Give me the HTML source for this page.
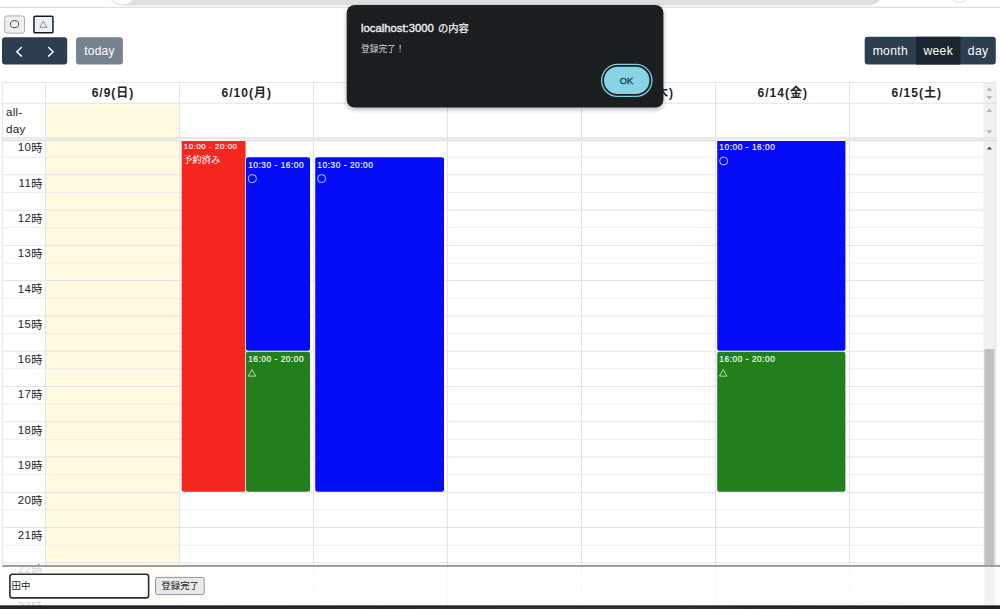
<!DOCTYPE html>
<html><head><meta charset="utf-8"><title>calendar</title>
<style>
html,body{margin:0;padding:0;}
body{width:1000px;height:609px;overflow:hidden;background:#fff;}
svg{display:block;}
text{font-family:"Liberation Sans","Noto Sans CJK JP",sans-serif;white-space:pre;}
</style></head><body>
<svg width="1000" height="609" viewBox="0 0 1000 609">
<defs><linearGradient id="tb" x1="0" y1="0" x2="1" y2="0"><stop offset="0" stop-color="#1c2a33"/><stop offset="0.22" stop-color="#1e2b32"/><stop offset="0.35" stop-color="#242a2a"/><stop offset="0.5" stop-color="#2b3325"/><stop offset="0.68" stop-color="#2d3326"/><stop offset="0.85" stop-color="#1f2b22"/><stop offset="1" stop-color="#1b2922"/></linearGradient><filter id="sh" x="-10%" y="-10%" width="120%" height="130%"><feGaussianBlur stdDeviation="2.8"/><feOffset dy="2"/></filter></defs>
<rect x="108.00" y="-30.00" width="775.00" height="35.40" fill="#dfdfdf" rx="14.00"/>
<circle cx="122.5" cy="-9.7" r="14.1" fill="#fff"/>
<circle cx="959.5" cy="-6" r="8.4" fill="none" stroke="#e0e0e0" stroke-width="1"/>
<rect x="0.00" y="6.80" width="1000.00" height="1.00" fill="#d9d9d9"/>
<rect x="46.00" y="103.40" width="133.60" height="34.60" fill="#fffae0"/>
<rect x="46.00" y="140.80" width="133.60" height="468.20" fill="#fffae0"/>
<rect x="983.40" y="82.40" width="12.40" height="526.60" fill="#f1f1f1"/>
<rect x="2.30" y="156.70" width="981.10" height="0.90" fill="#ececec"/>
<rect x="2.30" y="174.34" width="981.10" height="0.90" fill="#e0e0e0"/>
<rect x="2.30" y="191.98" width="981.10" height="0.90" fill="#ececec"/>
<rect x="2.30" y="209.62" width="981.10" height="0.90" fill="#e0e0e0"/>
<rect x="2.30" y="227.26" width="981.10" height="0.90" fill="#ececec"/>
<rect x="2.30" y="244.90" width="981.10" height="0.90" fill="#e0e0e0"/>
<rect x="2.30" y="262.54" width="981.10" height="0.90" fill="#ececec"/>
<rect x="2.30" y="280.18" width="981.10" height="0.90" fill="#e0e0e0"/>
<rect x="2.30" y="297.82" width="981.10" height="0.90" fill="#ececec"/>
<rect x="2.30" y="315.46" width="981.10" height="0.90" fill="#e0e0e0"/>
<rect x="2.30" y="333.10" width="981.10" height="0.90" fill="#ececec"/>
<rect x="2.30" y="350.74" width="981.10" height="0.90" fill="#e0e0e0"/>
<rect x="2.30" y="368.38" width="981.10" height="0.90" fill="#ececec"/>
<rect x="2.30" y="386.02" width="981.10" height="0.90" fill="#e0e0e0"/>
<rect x="2.30" y="403.66" width="981.10" height="0.90" fill="#ececec"/>
<rect x="2.30" y="421.30" width="981.10" height="0.90" fill="#e0e0e0"/>
<rect x="2.30" y="438.94" width="981.10" height="0.90" fill="#ececec"/>
<rect x="2.30" y="456.58" width="981.10" height="0.90" fill="#e0e0e0"/>
<rect x="2.30" y="474.22" width="981.10" height="0.90" fill="#ececec"/>
<rect x="2.30" y="491.86" width="981.10" height="0.90" fill="#e0e0e0"/>
<rect x="2.30" y="509.50" width="981.10" height="0.90" fill="#ececec"/>
<rect x="2.30" y="527.14" width="981.10" height="0.90" fill="#e0e0e0"/>
<rect x="2.30" y="544.78" width="981.10" height="0.90" fill="#ececec"/>
<rect x="2.30" y="562.42" width="981.10" height="0.90" fill="#e0e0e0"/>
<rect x="2.30" y="580.06" width="981.10" height="0.90" fill="#ececec"/>
<rect x="2.30" y="597.70" width="981.10" height="0.90" fill="#e0e0e0"/>
<rect x="1.90" y="82.25" width="994.30" height="0.90" fill="#e0e0e0"/>
<rect x="2.30" y="102.80" width="993.50" height="0.90" fill="#e0e0e0"/>
<rect x="2.30" y="137.60" width="993.50" height="3.40" fill="#efefef"/>
<rect x="2.30" y="137.50" width="993.50" height="0.80" fill="#dadada"/>
<rect x="2.30" y="140.30" width="993.50" height="0.80" fill="#dadada"/>
<rect x="1.85" y="82.00" width="0.90" height="527.00" fill="#e0e0e0"/>
<rect x="45.15" y="82.40" width="0.90" height="55.20" fill="#e0e0e0"/>
<rect x="45.15" y="141.00" width="0.90" height="468.00" fill="#e0e0e0"/>
<rect x="179.15" y="82.40" width="0.90" height="55.20" fill="#e0e0e0"/>
<rect x="179.15" y="141.00" width="0.90" height="468.00" fill="#e0e0e0"/>
<rect x="313.05" y="82.40" width="0.90" height="55.20" fill="#e0e0e0"/>
<rect x="313.05" y="141.00" width="0.90" height="468.00" fill="#e0e0e0"/>
<rect x="446.95" y="82.40" width="0.90" height="55.20" fill="#e0e0e0"/>
<rect x="446.95" y="141.00" width="0.90" height="468.00" fill="#e0e0e0"/>
<rect x="581.05" y="82.40" width="0.90" height="55.20" fill="#e0e0e0"/>
<rect x="581.05" y="141.00" width="0.90" height="468.00" fill="#e0e0e0"/>
<rect x="715.05" y="82.40" width="0.90" height="55.20" fill="#e0e0e0"/>
<rect x="715.05" y="141.00" width="0.90" height="468.00" fill="#e0e0e0"/>
<rect x="849.15" y="82.40" width="0.90" height="55.20" fill="#e0e0e0"/>
<rect x="849.15" y="141.00" width="0.90" height="468.00" fill="#e0e0e0"/>
<rect x="995.35" y="82.00" width="0.90" height="527.00" fill="#e0e0e0"/>
<polygon points="986.70,90.70 992.10,90.70 989.40,87.70" fill="#a8a8a8"/>
<polygon points="986.70,96.30 992.10,96.30 989.40,99.30" fill="#a8a8a8"/>
<polygon points="986.70,111.70 992.10,111.70 989.40,108.70" fill="#a8a8a8"/>
<polygon points="986.70,130.50 992.10,130.50 989.40,133.50" fill="#a8a8a8"/>
<polygon points="986.60,149.50 992.20,149.50 989.40,146.50" fill="#505050"/>
<rect x="984.40" y="349.00" width="9.90" height="260.00" fill="#c1c1c1"/>
<text x="113.00" y="96.60" font-size="12.00" font-weight="bold" fill="#212529" letter-spacing="1.00" text-anchor="middle">6/9(日)</text>
<text x="246.80" y="96.60" font-size="12.00" font-weight="bold" fill="#212529" letter-spacing="1.00" text-anchor="middle">6/10(月)</text>
<text x="380.70" y="96.60" font-size="12.00" font-weight="bold" fill="#212529" letter-spacing="1.00" text-anchor="middle">6/11(火)</text>
<text x="514.70" y="96.60" font-size="12.00" font-weight="bold" fill="#212529" letter-spacing="1.00" text-anchor="middle">6/12(水)</text>
<text x="648.80" y="96.60" font-size="12.00" font-weight="bold" fill="#212529" letter-spacing="1.00" text-anchor="middle">6/13(木)</text>
<text x="782.80" y="96.60" font-size="12.00" font-weight="bold" fill="#212529" letter-spacing="1.00" text-anchor="middle">6/14(金)</text>
<text x="916.80" y="96.60" font-size="12.00" font-weight="bold" fill="#212529" letter-spacing="1.00" text-anchor="middle">6/15(土)</text>
<text x="5.90" y="116.30" font-size="11.60" fill="#212529" letter-spacing="0.30">all-</text>
<text x="5.90" y="133.00" font-size="11.60" fill="#212529" letter-spacing="0.30">day</text>
<text x="31.40" y="151.41" font-size="11.40" fill="#212529" letter-spacing="0.50" text-anchor="end">10</text>
<text x="31.20" y="152.31" font-size="11.20" fill="#212529">時</text>
<text x="31.40" y="186.69" font-size="11.40" fill="#212529" letter-spacing="0.50" text-anchor="end">11</text>
<text x="31.20" y="187.59" font-size="11.20" fill="#212529">時</text>
<text x="31.40" y="221.97" font-size="11.40" fill="#212529" letter-spacing="0.50" text-anchor="end">12</text>
<text x="31.20" y="222.87" font-size="11.20" fill="#212529">時</text>
<text x="31.40" y="257.25" font-size="11.40" fill="#212529" letter-spacing="0.50" text-anchor="end">13</text>
<text x="31.20" y="258.15" font-size="11.20" fill="#212529">時</text>
<text x="31.40" y="292.53" font-size="11.40" fill="#212529" letter-spacing="0.50" text-anchor="end">14</text>
<text x="31.20" y="293.43" font-size="11.20" fill="#212529">時</text>
<text x="31.40" y="327.81" font-size="11.40" fill="#212529" letter-spacing="0.50" text-anchor="end">15</text>
<text x="31.20" y="328.71" font-size="11.20" fill="#212529">時</text>
<text x="31.40" y="363.09" font-size="11.40" fill="#212529" letter-spacing="0.50" text-anchor="end">16</text>
<text x="31.20" y="363.99" font-size="11.20" fill="#212529">時</text>
<text x="31.40" y="398.37" font-size="11.40" fill="#212529" letter-spacing="0.50" text-anchor="end">17</text>
<text x="31.20" y="399.27" font-size="11.20" fill="#212529">時</text>
<text x="31.40" y="433.65" font-size="11.40" fill="#212529" letter-spacing="0.50" text-anchor="end">18</text>
<text x="31.20" y="434.55" font-size="11.20" fill="#212529">時</text>
<text x="31.40" y="468.93" font-size="11.40" fill="#212529" letter-spacing="0.50" text-anchor="end">19</text>
<text x="31.20" y="469.83" font-size="11.20" fill="#212529">時</text>
<text x="31.40" y="504.21" font-size="11.40" fill="#212529" letter-spacing="0.50" text-anchor="end">20</text>
<text x="31.20" y="505.11" font-size="11.20" fill="#212529">時</text>
<text x="31.40" y="539.49" font-size="11.40" fill="#212529" letter-spacing="0.50" text-anchor="end">21</text>
<text x="31.20" y="540.39" font-size="11.20" fill="#212529">時</text>
<text x="31.40" y="573.17" font-size="11.40" fill="#212529" letter-spacing="0.50" text-anchor="end">22</text>
<text x="31.20" y="574.07" font-size="11.20" fill="#212529">時</text>
<text x="31.40" y="610.05" font-size="11.40" fill="#212529" letter-spacing="0.50" text-anchor="end">23</text>
<text x="31.20" y="610.95" font-size="11.20" fill="#212529">時</text>
<rect x="180.90" y="140.30" width="65.35" height="352.16" fill="#fff" rx="2.60"/>
<path d="M181.60 141.00 H245.55 V489.76 a2 2 0 0 1 -2 2 H183.60 a2 2 0 0 1 -2 -2 Z" fill="#f5261e"/>
<text x="183.75" y="149.16" font-size="7.80" fill="#fff" letter-spacing="0.60" stroke="#fff" stroke-width="0.15">10:00 - 20:00</text>
<text x="183.10" y="162.66" font-size="9.30" fill="#fff" stroke="#fff" stroke-width="0.17" style="font-family:'Liberation Serif','Noto Serif CJK SC','Noto Sans CJK JP',serif;">予約済み</text>
<rect x="245.30" y="156.60" width="65.40" height="194.94" fill="#fff" rx="2.60"/>
<rect x="246.00" y="157.30" width="64.00" height="193.54" fill="#050df7" rx="2.00"/>
<text x="248.15" y="167.50" font-size="8.30" fill="#fff" letter-spacing="0.55" stroke="#fff" stroke-width="0.15">10:30 - 16:00</text>
<circle cx="252.45" cy="178.60" r="4.0" fill="none" stroke="#e6e6ff" stroke-width="0.85"/>
<rect x="245.30" y="350.94" width="65.40" height="141.52" fill="#fff" rx="2.60"/>
<rect x="246.00" y="351.64" width="64.00" height="140.12" fill="#237f1c" rx="2.00"/>
<text x="248.15" y="361.84" font-size="8.30" fill="#fff" letter-spacing="0.55" stroke="#fff" stroke-width="0.15">16:00 - 20:00</text>
<polygon points="252.00,369.54 255.70,376.14 248.30,376.14" fill="none" stroke="#e0efe0" stroke-width="0.8"/>
<rect x="314.50" y="156.60" width="130.20" height="335.86" fill="#fff" rx="2.60"/>
<rect x="315.20" y="157.30" width="128.80" height="334.46" fill="#050df7" rx="2.00"/>
<text x="317.35" y="167.50" font-size="8.30" fill="#fff" letter-spacing="0.55" stroke="#fff" stroke-width="0.15">10:30 - 20:00</text>
<circle cx="321.65" cy="178.60" r="4.0" fill="none" stroke="#e6e6ff" stroke-width="0.85"/>
<rect x="716.50" y="140.30" width="129.60" height="211.24" fill="#fff" rx="2.60"/>
<path d="M717.20 141.00 H845.40 V348.84 a2 2 0 0 1 -2 2 H719.20 a2 2 0 0 1 -2 -2 Z" fill="#050df7"/>
<text x="719.35" y="149.86" font-size="8.30" fill="#fff" letter-spacing="0.55" stroke="#fff" stroke-width="0.15">10:00 - 16:00</text>
<circle cx="723.65" cy="160.96" r="4.0" fill="none" stroke="#e6e6ff" stroke-width="0.85"/>
<rect x="716.50" y="350.94" width="129.60" height="141.52" fill="#fff" rx="2.60"/>
<rect x="717.20" y="351.64" width="128.20" height="140.12" fill="#237f1c" rx="2.00"/>
<text x="719.35" y="361.84" font-size="8.30" fill="#fff" letter-spacing="0.55" stroke="#fff" stroke-width="0.15">16:00 - 20:00</text>
<polygon points="723.20,369.54 726.90,376.14 719.50,376.14" fill="none" stroke="#e0efe0" stroke-width="0.8"/>
<rect x="4.70" y="15.90" width="19.80" height="17.30" fill="#efefef" rx="2.30" stroke="#9a9a9a" stroke-width="0.80"/>
<ellipse cx="14.5" cy="24.2" rx="4.1" ry="3.55" fill="none" stroke="#333" stroke-width="0.9"/>
<rect x="33.95" y="16.35" width="19.00" height="16.50" fill="#e9f1fc" rx="1.20" stroke="#1a1a1a" stroke-width="1.50"/>
<polygon points="43.4,21.2 46.9,27.4 39.9,27.4" fill="none" stroke="#6b6b6b" stroke-width="0.75"/>
<rect x="2.00" y="37.30" width="65.20" height="27.30" fill="#2c3e50" rx="3.00"/>
<path d="M21.4 47.5 L16.8 51.8 L21.4 56.1 M48.6 47.5 L53.2 51.8 L48.6 56.1" fill="none" stroke="#fff" stroke-width="1.5" stroke-linecap="round" stroke-linejoin="round"/>
<rect x="76.00" y="37.30" width="46.90" height="27.30" fill="#76828d" rx="3.00"/>
<text x="99.45" y="55.00" font-size="12.00" fill="#fff" letter-spacing="0.25" text-anchor="middle">today</text>
<rect x="864.70" y="36.80" width="131.10" height="27.70" fill="#2c3e50" rx="3.00"/>
<rect x="916.00" y="36.80" width="44.50" height="27.70" fill="#1a252f"/>
<text x="890.35" y="54.60" font-size="12.20" fill="#fff" letter-spacing="0.30" text-anchor="middle">month</text>
<text x="938.25" y="54.60" font-size="12.20" fill="#fff" letter-spacing="0.30" text-anchor="middle">week</text>
<text x="978.15" y="54.60" font-size="12.20" fill="#fff" letter-spacing="0.30" text-anchor="middle">day</text>
<rect x="0.00" y="565.00" width="1000.00" height="41.00" fill="rgba(255,255,255,0.79)"/>
<rect x="2.30" y="565.00" width="997.70" height="1.90" fill="#999999"/>
<rect x="9.90" y="574.20" width="138.70" height="23.70" fill="#fff" rx="2.40" stroke="#2e2e2e" stroke-width="1.60"/>
<text x="11.40" y="589.00" font-size="9.50" fill="#222">田中</text>
<rect x="155.50" y="577.40" width="48.70" height="17.20" fill="#e9e9e9" rx="2.00" stroke="#7a7a7a" stroke-width="0.80"/>
<text x="161.30" y="589.00" font-size="9.45" fill="#222">登録完了</text>
<rect x="0.00" y="605.60" width="1000.00" height="3.40" fill="url(#tb)"/>
<rect x="0.00" y="605.60" width="1000.00" height="0.90" fill="#141a19"/>
<rect x="346.70" y="4.90" width="316.70" height="102.70" fill="#000" rx="8.00" filter="url(#sh)" opacity="0.3"/>
<rect x="346.70" y="4.90" width="316.70" height="102.70" fill="#1b1f21" rx="8.00"/>
<text x="361.00" y="31.70" font-size="11.30" fill="#f2f2f2" stroke="#f2f2f2" stroke-width="0.35">localhost:3000</text>
<text x="438.00" y="32.20" font-size="10.30" fill="#f2f2f2" stroke="#f2f2f2" stroke-width="0.25">の内容</text>
<text x="361.00" y="52.30" font-size="8.70" fill="#d6d6d6">登録完了！</text>
<rect x="601.65" y="64.45" width="50.30" height="31.90" fill="none" rx="16.00" stroke="#7fd0e2" stroke-width="1.30"/>
<rect x="604.00" y="66.80" width="45.40" height="27.20" fill="#86d4e5" rx="13.60"/>
<text x="626.60" y="84.30" font-size="9.30" fill="#123a46" letter-spacing="0.20" text-anchor="middle" stroke="#123a46" stroke-width="0.3">OK</text>
</svg>
</body></html>
